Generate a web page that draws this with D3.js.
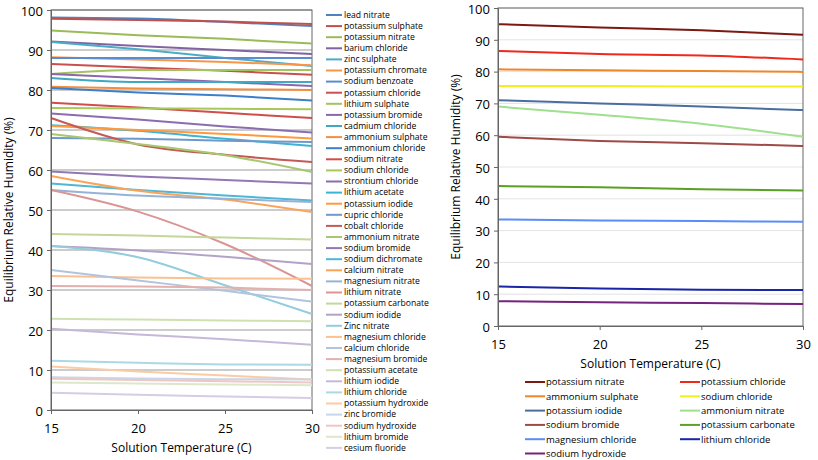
<!DOCTYPE html>
<html><head><meta charset="utf-8">
<script src="https://cdn.jsdelivr.net/npm/d3@7"></script>
<style>body{margin:0;background:#fff;font-family:"Open Sans","DejaVu Sans",sans-serif}</style>
</head><body><svg id="c" width="818" height="460"></svg>
<script>
const temps = [15, 20, 25, 30];
const yTicks = [0, 10, 20, 30, 40, 50, 60, 70, 80, 90, 100];

// left chart: all salts
const leftNames = ["lead nitrate","potassium sulphate","potassium nitrate","barium chloride","zinc sulphate","potassium chromate","sodium benzoate","potassium chloride","lithium sulphate","potassium bromide","cadmium chloride","ammonium sulphate","ammonium chloride","sodium nitrate","sodium chloride","strontium chloride","lithium acetate","potassium iodide","cupric chloride","cobalt chloride","ammonium nitrate","sodium bromide","sodium dichromate","calcium nitrate","magnesium nitrate","lithium nitrate","potassium carbonate","sodium iodide","Zinc nitrate","magnesium chloride","calcium chloride","magnesium bromide","potassium acetate","lithium iodide","lithium chloride","potassium hydroxide","zinc bromide","sodium hydroxide","lithium bromide","cesium fluoride"];
const leftValues = [
  [98.1, 97.9, 97.0, 96.0],
  [97.8, 97.5, 97.1, 96.5],
  [94.9, 93.7, 92.8, 91.6],
  [92.1, 91.0, 90.0, 89.0],
  [92.0, 90.2, 88.0, 86.0],
  [88.2, 87.6, 87.0, 86.2],
  [88.0, 88.0, 88.0, 88.0],
  [86.5, 85.6, 84.8, 83.8],
  [84.0, 85.0, 85.0, 85.0],
  [84.0, 83.0, 82.0, 81.0],
  [83.0, 82.0, 82.0, 82.0],
  [80.8, 80.4, 80.2, 80.0],
  [80.5, 79.4, 78.6, 77.4],
  [76.8, 75.6, 74.3, 73.0],
  [75.5, 75.4, 75.3, 75.2],
  [74.1, 72.6, 70.9, 69.4],
  [71.2, 69.8, 67.8, 66.0],
  [71.0, 70.0, 69.0, 67.9],
  [68.0, 67.8, 67.3, 67.0],
  [73.0, 66.4, 63.8, 62.0],
  [69.0, 66.5, 63.7, 59.5],
  [59.6, 58.4, 57.5, 56.6],
  [56.6, 55.0, 53.6, 52.4],
  [58.5, 54.8, 52.6, 49.5],
  [55.0, 53.6, 52.8, 52.0],
  [55.0, 49.6, 41.5, 31.0],
  [44.0, 43.6, 43.1, 42.6],
  [41.0, 39.9, 38.3, 36.5],
  [41.0, 38.2, 31.2, 24.0],
  [33.5, 33.1, 32.9, 32.8],
  [35.0, 32.4, 29.8, 27.1],
  [31.0, 30.9, 30.6, 30.0],
  [22.8, 22.6, 22.4, 22.2],
  [20.3, 18.9, 17.7, 16.3],
  [12.3, 11.8, 11.4, 11.3],
  [10.9, 9.6, 8.6, 7.6],
  [8.2, 7.9, 7.7, 7.6],
  [7.8, 7.5, 7.2, 6.9],
  [6.9, 6.6, 6.4, 6.2],
  [4.3, 3.8, 3.4, 3.0]
];
const leftColors = ["#4f81bd","#c0504d","#9bbb59","#8064a2","#4bacc6","#f79646",
  "#5b8ccf","#c8504f","#a2c35f","#8a68ab","#3fa9c4","#f28f3f",
  "#3d7fc8","#d04e4a","#a9c85a","#8a6dae","#3cb3d3","#ff9a3c",
  "#6f98cc","#c45a55","#a7c770","#9278b3","#4fb6d3","#faa45a",
  "#95b3d7","#da9694","#c3d69b","#b3a2c7","#93cddd","#fac090",
  "#b0c4e0","#e4b0ae","#cfe0b2","#c6b8d8","#acd8e6","#fbcba4",
  "#c8d6ea","#eec6c5","#dce8c9","#d6cde4"];

// right chart: selected salts
const rightNames = ["potassium nitrate","potassium chloride","ammonium sulphate","sodium chloride","potassium iodide","ammonium nitrate","sodium bromide","potassium carbonate","magnesium chloride","lithium chloride","sodium hydroxide"];
const rightValues = [
  [94.9, 93.9, 93.0, 91.6],
  [86.5, 85.5, 85.1, 83.8],
  [80.7, 80.4, 80.2, 79.9],
  [75.5, 75.5, 75.3, 75.3],
  [71.0, 70.0, 69.0, 67.9],
  [69.0, 66.4, 63.6, 59.5],
  [59.5, 58.2, 57.5, 56.6],
  [44.0, 43.6, 43.0, 42.6],
  [33.5, 33.2, 33.0, 32.8],
  [12.4, 11.8, 11.4, 11.3],
  [7.8, 7.5, 7.2, 6.9]
];
const rightColors = ["#7b1a12","#ee2a1b","#f0862a","#f2ef1f","#4a6f9f","#9ee08e","#9e4a46","#5aa024","#5b8cf8","#1926a8","#75237f"];

const svg = d3.select("#c");

function drawChart(o) {
  const x = d3.scaleLinear().domain([15, 30]).range([o.x0, o.x1]);
  const y = d3.scaleLinear().domain([0, 100]).range([o.y0, o.y1]);
  const g = svg.append("g");
  // gridlines
  g.selectAll(".grid").data(yTicks.slice(1)).join("line")
    .attr("x1", o.x0).attr("x2", o.x1)
    .attr("y1", d => y(d)).attr("y2", d => y(d))
    .style("stroke", o.grid).style("stroke-width", 1);
  g.append("rect").attr("x", o.x0).attr("y", o.y1)
    .attr("width", o.x1 - o.x0).attr("height", o.y0 - o.y1)
    .style("fill", "none").style("stroke", "#666");
  const line = d3.line().x((d, i) => x(temps[i])).y(d => y(d)).curve(d3.curveMonotoneX);
  g.selectAll(".s").data(o.values).join("path")
    .attr("d", line)
    .style("fill", "none")
    .style("stroke", (d, i) => o.colors[i])
    .style("stroke-width", 2);
  const xa = g.append("g").attr("transform", `translate(0,${o.y0})`)
    .call(d3.axisBottom(x).tickValues([15, 20, 25, 30]).tickSize(4).tickPadding(10));
  const ya = g.append("g").attr("transform", `translate(${o.x0},0)`)
    .call(d3.axisLeft(y).tickValues(yTicks).tickSize(4).tickPadding(4));
  [xa, ya].forEach(a => {
    a.selectAll("text").style("font-size", "13px").style("fill", "#000")
      .style("font-family", "'Open Sans',sans-serif");
    a.selectAll("line,path").style("stroke", "#666");
  });
  ya.selectAll("text").attr("dy", "0.4em");
  g.append("text").attr("x", (o.x0 + o.x1) / 2).attr("y", o.y0 + 42)
    .attr("text-anchor", "middle").style("font-size", "12px").text("Solution Temperature (C)");
  g.append("text")
    .attr("transform", `translate(${o.x0 - 38},${(o.y0 + o.y1) / 2}) rotate(-90)`)
    .attr("text-anchor", "middle").style("font-size", "12px").text("Equilibrium Relative Humidity (%)");
}

drawChart({x0: 51, x1: 312, y0: 410, y1: 10, values: leftValues, colors: leftColors, grid: "#999"});
drawChart({x0: 498, x1: 803, y0: 326, y1: 8, values: rightValues, colors: rightColors, grid: "#e3e3e3"});

// left legend
const ll = svg.append("g").selectAll("g").data(leftNames).join("g")
  .attr("transform", (d, i) => `translate(326,${15 + i * 11.1})`);
ll.append("line").attr("x1", 0).attr("x2", 16)
  .style("stroke", (d, i) => leftColors[i]).style("stroke-width", 2);
ll.append("text").attr("x", 18).attr("dy", "0.33em")
  .style("font-size", "8.6px").text(d => d);

// right legend
const rl = svg.append("g").selectAll("g").data(rightNames).join("g")
  .attr("transform", (d, i) => `translate(${i % 2 ? 680 : 525},${382 + Math.floor(i / 2) * 14.3})`);
rl.append("line").attr("x1", 0).attr("x2", 20)
  .style("stroke", (d, i) => rightColors[i]).style("stroke-width", 2);
rl.append("text").attr("x", 21).attr("dy", "0.35em")
  .style("font-size", "9.5px").text(d => d);
</script></body></html>
